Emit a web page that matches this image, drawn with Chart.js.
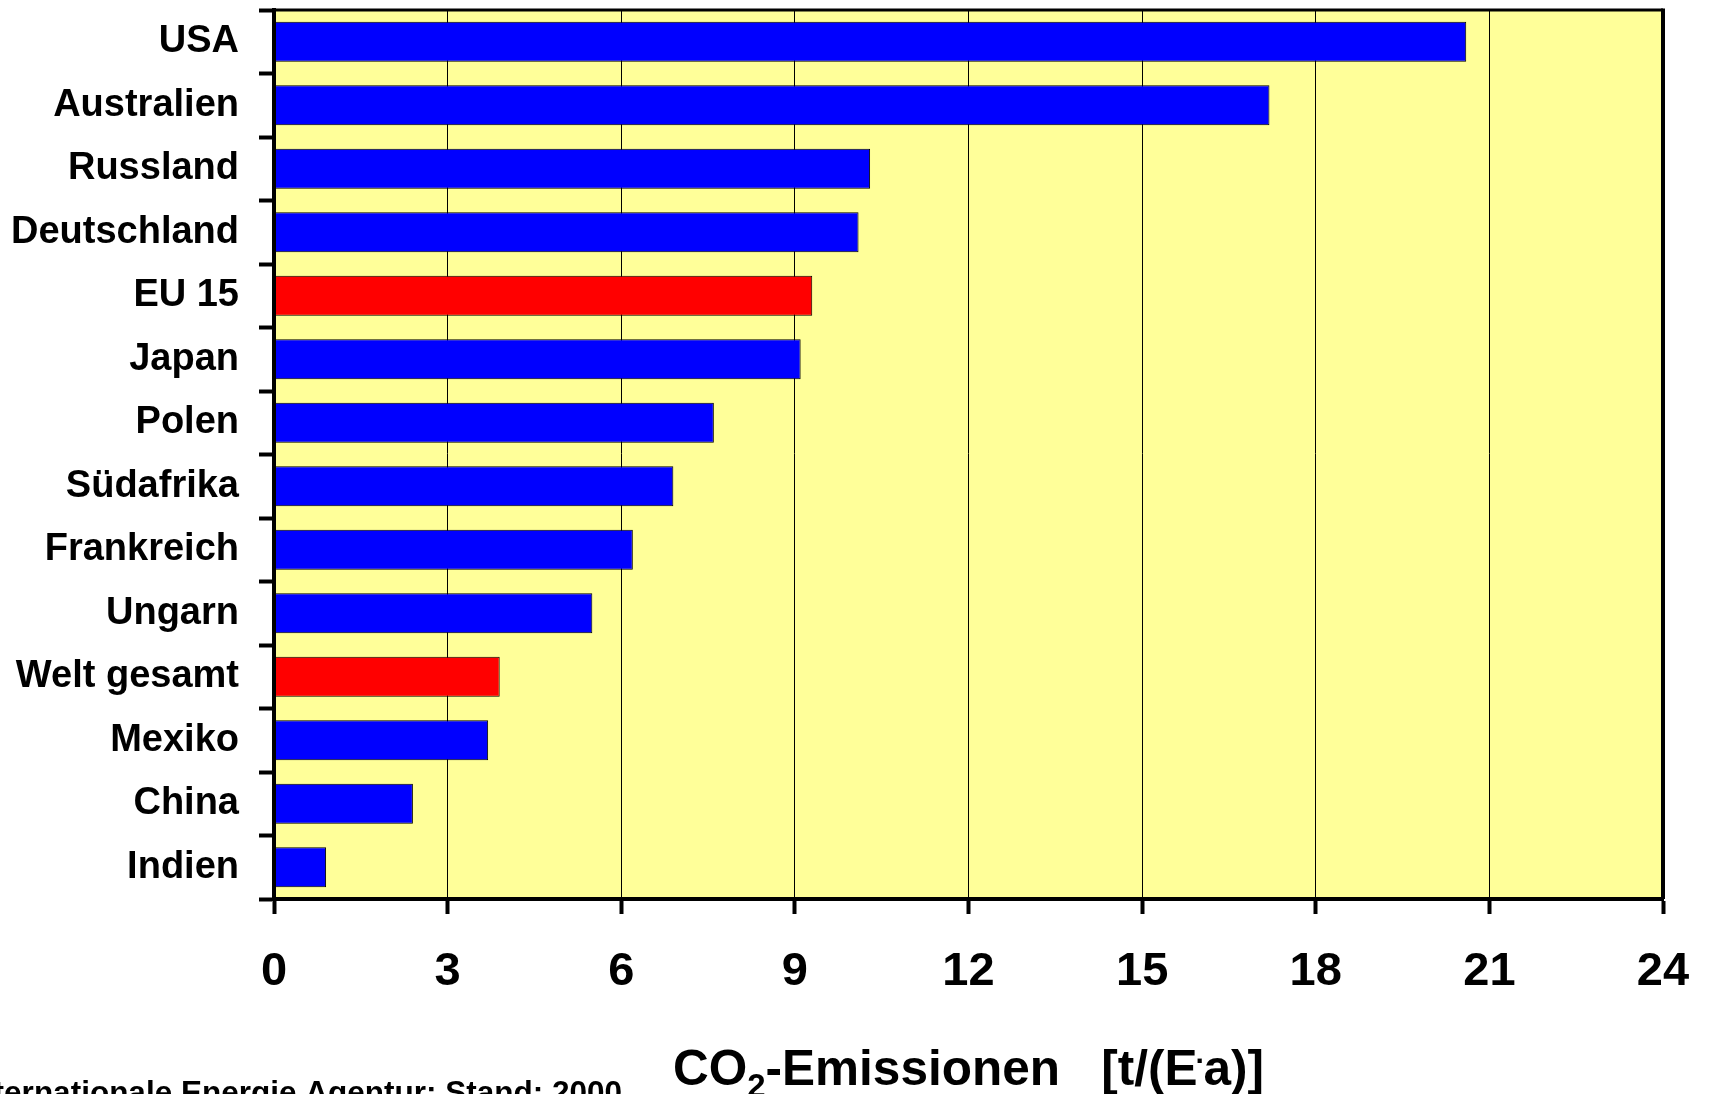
<!DOCTYPE html>
<html>
<head>
<meta charset="utf-8">
<script src="https://cdn.jsdelivr.net/npm/chart.js@4"></script>
<style>
  html, body { margin: 0; padding: 0; background: #ffffff; overflow: hidden; }
  #wrap { width: 1710px; height: 1094px; position: relative; }
  canvas { display: block; }
</style>
</head>
<body>
<div id="wrap"><canvas id="chart" width="1710" height="1094"></canvas></div>
<script>
// Per-capita CO2 emissions, tonnes per inhabitant and year
const countries = ['USA', 'Australien', 'Russland', 'Deutschland', 'EU 15', 'Japan', 'Polen',
                   'Südafrika', 'Frankreich', 'Ungarn', 'Welt gesamt', 'Mexiko', 'China', 'Indien'];
const emissions = [20.6, 17.2, 10.3, 10.1, 9.3, 9.1, 7.6, 6.9, 6.2, 5.5, 3.9, 3.7, 2.4, 0.9];
// Aggregates shown in red, single countries in blue
const aggregates = ['EU 15', 'Welt gesamt'];
const xTicks = [0, 3, 6, 9, 12, 15, 18, 21, 24];
const titleMain = 'CO';
const titleSub = '2';
const titleRest = '-Emissionen   [t/(E';
const titleDot = '·';
const titleEnd = 'a)]';
const sourceNote = 'Quelle: Internationale Energie Agentur; Stand: 2000';

const FONT = '"Liberation Sans", Arial, Helvetica, sans-serif';
const barColors = countries.map(c => aggregates.includes(c) ? '#ff0000' : '#0000ff');

// Pale yellow plot area
const plotBackground = {
  id: 'plotBackground',
  beforeDraw(chart) {
    const { ctx, chartArea: a } = chart;
    ctx.save();
    ctx.fillStyle = '#ffff99';
    ctx.fillRect(a.left, a.top, a.right - a.left, a.bottom - a.top);
    ctx.restore();
  }
};

// Frame on the top and right side of the plot area
const plotFrame = {
  id: 'plotFrame',
  afterDraw(chart) {
    const { ctx, chartArea: a } = chart;
    ctx.save();
    ctx.strokeStyle = '#000';
    ctx.lineWidth = 3;
    ctx.beginPath();
    ctx.moveTo(a.left, a.top);
    ctx.lineTo(a.right, a.top);
    ctx.stroke();
    ctx.lineWidth = 4;
    ctx.beginPath();
    ctx.moveTo(a.right, a.top - 1.5);
    ctx.lineTo(a.right, a.bottom);
    ctx.stroke();
    ctx.restore();
  }
};

// Axis title with subscript, and the source note
const captions = {
  id: 'captions',
  afterDraw(chart) {
    const { ctx } = chart;
    ctx.save();
    ctx.fillStyle = '#000';
    ctx.textBaseline = 'alphabetic';
    ctx.textAlign = 'left';
    const big = 'bold 49.5px ' + FONT;
    const small = 'bold 33px ' + FONT;
    const base = 1085;
    let x = 673;
    ctx.font = big;
    ctx.fillText(titleMain, x, base);
    x += ctx.measureText(titleMain).width;
    ctx.font = small;
    ctx.fillText(titleSub, x, base + 12);
    x += ctx.measureText(titleSub).width;
    ctx.font = big;
    ctx.fillText(titleRest, x, base);
    x += ctx.measureText(titleRest).width;
    ctx.font = 'bold 30px ' + FONT;
    ctx.fillText(titleDot, x - 2, base - 14);
    x += ctx.measureText(titleDot).width - 4;
    ctx.font = big;
    ctx.fillText(titleEnd, x, base);

    ctx.font = 'bold 31.5px ' + FONT;
    ctx.textAlign = 'right';
    ctx.fillText(sourceNote, 622, 1103);
    ctx.restore();
  }
};

new Chart(document.getElementById('chart'), {
  type: 'bar',
  data: {
    labels: countries,
    datasets: [{
      data: emissions,
      backgroundColor: barColors,
      borderColor: '#000',
      borderWidth: 1,
      barPercentage: 0.63,
      categoryPercentage: 1.0
    }]
  },
  options: {
    indexAxis: 'y',
    responsive: false,
    animation: false,
    devicePixelRatio: 1,
    layout: { padding: { top: 10, right: 47, bottom: 0, left: 0 } },
    plugins: {
      legend: { display: false },
      tooltip: { enabled: false },
      title: { display: false }
    },
    scales: {
      x: {
        type: 'linear',
        min: 0,
        max: 24,
        afterBuildTicks(scale) {
          scale.ticks = xTicks.map(v => ({ value: v }));
        },
        afterFit(scale) {
          scale.height = 195;
          scale.paddingLeft = 0;
          scale.paddingRight = 0;
        },
        grid: {
          color: '#000',
          lineWidth: 1,
          drawTicks: true,
          tickLength: 15,
          tickWidth: 4,
          tickColor: '#000'
        },
        border: { display: true, color: '#000', width: 4, z: 1 },
        ticks: {
          color: '#000',
          padding: 30,
          font: { family: FONT, size: 47, weight: 'bold' },
          maxRotation: 0,
          autoSkip: false
        }
      },
      y: {
        type: 'category',
        offset: true,
        afterFit(scale) {
          scale.width = 274;
          scale.paddingTop = 0;
          scale.paddingBottom = 0;
        },
        grid: {
          offset: true,
          drawOnChartArea: false,
          drawTicks: true,
          tickLength: 15,
          tickWidth: 4,
          tickColor: '#000'
        },
        border: { display: true, color: '#000', width: 4, z: 1 },
        ticks: {
          color: '#000',
          padding: 20,
          font: { family: FONT, size: 38, weight: 'bold' },
          autoSkip: false
        }
      }
    }
  },
  plugins: [plotBackground, plotFrame, captions]
});
</script>
</body>
</html>
